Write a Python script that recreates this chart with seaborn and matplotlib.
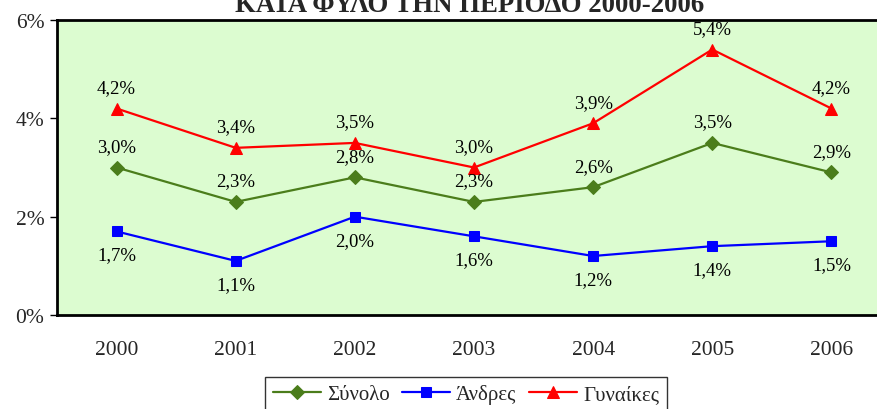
import pandas as pd
import seaborn as sns
import matplotlib.pyplot as plt
from matplotlib.ticker import FixedLocator

# values
years = ['2000', '2001', '2002', '2003', '2004', '2005', '2006']
total = [3.0, 2.3, 2.8, 2.3, 2.6, 3.5, 2.9]
men = [1.7, 1.1, 2.0, 1.6, 1.2, 1.4, 1.5]
women = [4.2, 3.4, 3.5, 3.0, 3.9, 5.4, 4.2]
series_names = ['Σύνολο', 'Άνδρες', 'Γυναίκες']
y_ticks = [0, 2, 4, 6]

sns.set_style('white')
plt.rcParams['font.family'] = ['Liberation Serif', 'DejaVu Serif']

df = pd.DataFrame({
    'x': list(range(len(years))) * 3,
    'value': total + men + women,
    'series': [series_names[0]] * 7 + [series_names[1]] * 7 + [series_names[2]] * 7,
})

colors = {'Σύνολο': '#4b7d1b', 'Άνδρες': '#0000ff', 'Γυναίκες': '#ff0000'}
markers = {'Σύνολο': 'D', 'Άνδρες': 's', 'Γυναίκες': '^'}
sizes = {'Σύνολο': 7, 'Άνδρες': 7.5, 'Γυναίκες': 8}

fig = plt.figure(figsize=(8.77, 4.10), dpi=100)
ax = fig.add_axes([57 / 877, 94 / 410, 834 / 877, 295 / 410])
ax.set_facecolor('#dcfcd0')

for name in series_names:
    sub = df[df['series'] == name]
    sns.lineplot(data=sub, x='x', y='value', ax=ax, color=colors[name],
                 marker=markers[name], markersize=sizes[name],
                 markeredgecolor=colors[name], linewidth=1.6, label=name)

# data labels
for name, vals, off in [('Σύνολο', total, 15), ('Άνδρες', men, -17), ('Γυναίκες', women, 15)]:
    for i, v in enumerate(vals):
        ax.annotate(f'{v:.1f}%'.replace('.', ','), (i, v), xytext=(0, off),
                    textcoords='offset points', ha='center', va='center',
                    fontsize=13.5, color='black')

ax.set_xlim(-0.5, 6.5)
ax.set_ylim(0, 6)
ax.set_yticks(y_ticks)
ax.set_yticklabels([f'{t}%' for t in y_ticks], fontsize=15.5)
ax.set_xticks(range(len(years)))
ax.set_xticklabels(years, fontsize=15.5)
ax.xaxis.set_minor_locator(FixedLocator([i - 0.5 for i in range(8)]))
ax.tick_params(axis='x', which='major', length=0, pad=18)
ax.tick_params(axis='x', which='minor', length=5, width=1, color='black', direction='out')
ax.tick_params(axis='y', length=5, width=1, color='black', direction='out', pad=4, left=True)
ax.set_xlabel('')
ax.set_ylabel('')
for s in ax.spines.values():
    s.set_color('black')
    s.set_linewidth(2)

# second line of the title; the first line lies above the picture
fig.text(470 / 877, 1 - 12 / 410, 'ΚΑΤΑ ΦΥΛΟ ΤΗΝ ΠΕΡΙΟΔΟ 2000-2006', ha='center',
         va='baseline', fontsize=19.3, fontweight='bold')

leg = ax.legend(loc='upper center', bbox_to_anchor=(466 / 877, 1 - 378 / 410),
                bbox_transform=fig.transFigure, ncol=3, fontsize=15,
                frameon=True, fancybox=False, shadow=False, borderpad=0.35,
                handlelength=2.3, handletextpad=0.3, columnspacing=0.6,
                borderaxespad=0)
leg.get_frame().set_edgecolor('black')
leg.get_frame().set_linewidth(1)

plt.savefig('out.png', dpi=100)
